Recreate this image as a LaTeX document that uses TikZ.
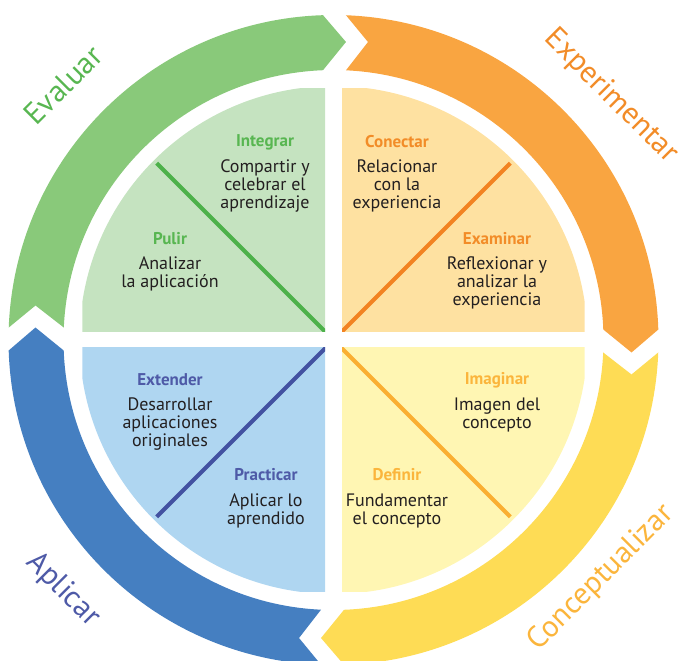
\documentclass[tikz,border=0pt]{standalone}
\usepackage{fontspec}
\setmainfont{PT Sans}
\definecolor{ringG}{HTML}{89C97A}
\definecolor{ringO}{HTML}{F9A541}
\definecolor{ringY}{HTML}{FEDC55}
\definecolor{ringB}{HTML}{457FC1}
\definecolor{txtG}{HTML}{58B651}
\definecolor{txtO}{HTML}{F28C28}
\definecolor{txtY}{HTML}{FBB53C}
\definecolor{txtB}{HTML}{4E5AA7}
\definecolor{qG}{HTML}{C5E3C0}
\definecolor{qO}{HTML}{FEE1A1}
\definecolor{qY}{HTML}{FFF6B3}
\definecolor{qB}{HTML}{AFD6F1}
\definecolor{lnG}{HTML}{4DB14A}
\definecolor{lnO}{HTML}{F28322}
\definecolor{lnY}{HTML}{FAAF32}
\definecolor{lnB}{HTML}{4352A1}
\definecolor{bodyc}{HTML}{231F20}
\tikzset{
  bodytext/.style={font=\fontsize{18}{18}\selectfont, align=center, text=bodyc, inner sep=0pt},
  steplabel/.style={font=\fontsize{17}{17}\selectfont\bfseries, inner sep=0pt},
  ringlabel/.style={font=\fontsize{30.5}{30.5}\selectfont, inner sep=0pt},
  divline/.style={line width=4.2pt}
}
\begin{document}
\begin{tikzpicture}[x=1pt,y=1pt]
\useasboundingbox (-333.5,-320) rectangle (350.5,340);
% ring arrows
\foreach \rot/\col in {0/ringG,-90/ringO,-180/ringY,-270/ringB}{
  \begin{scope}[rotate=\rot]
    \fill[\col] (177.8:325) arc[start angle=177.8, end angle=91.85, radius=325]
      -- (87.6:298.3) -- (92.23:270)
      arc[start angle=92.23, end angle=177.35, radius=270]
      -- (173.4:300) -- cycle;
  \end{scope}
}
% quadrants
\begin{scope}
  \clip (-251,8) rectangle (-8.5,251);
  \fill[qG] (0,0) circle[radius=254];
  \draw[lnG, divline] (0,0) -- (135:250);
\end{scope}
\begin{scope}
  \clip (8.5,8) rectangle (251,251);
  \fill[qO] (0,0) circle[radius=254];
  \draw[lnO, divline] (0,0) -- (45:250);
\end{scope}
\begin{scope}
  \clip (8.5,-8) rectangle (251,-251);
  \fill[qY] (0,0) circle[radius=254];
  \draw[lnY, divline] (0,0) -- (-45:250);
\end{scope}
\begin{scope}
  \clip (-251,-8) rectangle (-8.5,-251);
  \fill[qB] (0,0) circle[radius=254];
  \draw[lnB, divline] (0,0) -- (-135:250);
\end{scope}
% ring labels
\node[ringlabel, text=txtG, rotate=45] (evaluar) at (-270.5,255) {Evaluar};
\node[ringlabel, text=txtO, rotate=-45] (experimentar) at (277.5,243.5) {Experimentar};
\node[ringlabel, text=txtY, rotate=45] (conceptualizar) at (267.5,-238) {Conceptualizar};
\node[ringlabel, text=txtB, rotate=-45] (aplicar) at (-270.5,-250) {Aplicar};
% top-left
\node[steplabel, text=txtG] (integrar) at (-68.5,198) {Integrar};
\node[bodytext] (integrarb) at (-68.5,154) {Compartir y\\celebrar el\\aprendizaje};
\node[steplabel, text=txtG] (pulir) at (-163.5,101) {Pulir};
\node[bodytext] (pulirb) at (-163.5,66) {Analizar\\la aplicación};
% top-right
\node[steplabel, text=txtO] (conectar) at (63.5,198) {Conectar};
\node[bodytext] (conectarb) at (63.5,154) {Relacionar\\con la\\experiencia};
\node[steplabel, text=txtO] (examinar) at (163.5,101) {Examinar};
\node[bodytext] (examinarb) at (163.5,57) {Reflexionar y\\analizar la\\experiencia};
% bottom-left
\node[steplabel, text=txtB] (extender) at (-163.5,-40) {Extender};
\node[bodytext] (extenderb) at (-163.5,-84) {Desarrollar\\aplicaciones\\originales};
\node[steplabel, text=txtB] (practicar) at (-67.5,-135) {Practicar};
\node[bodytext] (practicarb) at (-67.5,-170.5) {Aplicar lo\\aprendido};
% bottom-right
\node[steplabel, text=txtY] (imaginar) at (163.5,-40) {Imaginar};
\node[bodytext] (imaginarb) at (163.5,-75) {Imagen del\\concepto};
\node[steplabel, text=txtY] (definir) at (63.5,-135) {Definir};
\node[bodytext] (definirb) at (63.5,-170.5) {Fundamentar\\el concepto};
\end{tikzpicture}
\end{document}
